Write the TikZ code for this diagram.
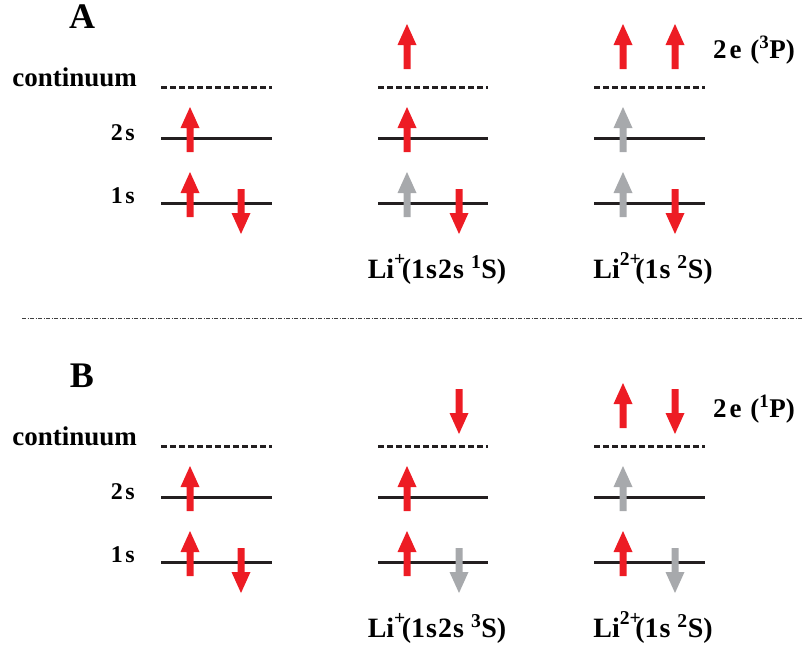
\documentclass[tikz,border=0pt]{standalone}
\usepackage{fontspec}
\setmainfont{Liberation Serif}
\definecolor{spinred}{HTML}{ED1C24}
\definecolor{spingray}{HTML}{A7A9AC}
\definecolor{levelblack}{HTML}{231F20}
\newcommand{\chargeup}[1]{\textsuperscript{\raisebox{3pt}{#1}}}
\tikzset{
  levelline/.style={line width=3pt, draw=levelblack},
  contline/.style={line width=3pt, draw=levelblack, dash pattern=on 6pt off 3pt},
  seprule/.style={line width=1pt, draw=black!75, dash pattern=on 4pt off 1.5pt on 1pt off 1.5pt},
  panellabel/.style={anchor=base, inner sep=0pt, font=\bfseries\fontsize{36}{36}\selectfont},
  contlabel/.style={anchor=base east, inner sep=0pt, font=\bfseries\fontsize{27}{27}\selectfont},
  lvllabel/.style={anchor=base east, inner sep=0pt, font=\bfseries\fontsize{24}{24}\selectfont},
  statelabel/.style={anchor=base, inner sep=0pt, font=\bfseries\fontsize{28}{28}\selectfont},
  twoelabel/.style={anchor=base west, inner sep=0pt, font=\bfseries\fontsize{27}{27}\selectfont},
  pics/spin/.style={code={
    \fill (-3.5,0) -- (-3.5,-24) -- (-9.5,-24) -- (0,-45) -- (9.5,-24) -- (3.5,-24) -- (3.5,0) -- cycle;
  }},
}
\begin{document}
\begin{tikzpicture}[x=1pt,y=-1pt]
\useasboundingbox (0,0) rectangle (803,645);

% separator between the panels
\coordinate (sepL) at (22,318);
\coordinate (sepR) at (803,318);
\draw[seprule] (sepL) -- (sepR);

% levels and level names, same in both panels
\foreach \pan/\off in {A/0,B/359}
{
  \begin{scope}[yshift=-\off pt]
    \node[panellabel] (lab\pan) at (82,28) {\pan};
    \node[contlabel] (cont\pan) at (137,86) {continuum};
    \node[lvllabel] (twos\pan) at (135,140) {2\kern2.5pt s};
    \node[lvllabel] (ones\pan) at (135,203) {1\kern2.5pt s};
    \foreach \xa/\xb in {161/272,378/488,594/705}
    {
      \draw[contline] (\xa,87) -- (\xb,87);
      \draw[levelline] (\xa,138) -- (\xb,138);
      \draw[levelline] (\xa,203) -- (\xb,203);
    }
  \end{scope}
}

% panel A spins
\foreach \x/\y/\c/\r in {190/152/spinred/0,190/217/spinred/0,241/189/spinred/180,
  407/69/spinred/0,407/152/spinred/0,407/217/spingray/0,459/189/spinred/180,
  623/69/spinred/0,675/69/spinred/0,623/152/spingray/0,623/217/spingray/0,675/189/spinred/180}
  \pic[color=\c, rotate=\r] at (\x,\y) {spin};

\node[statelabel] (ionAa) at (437,278) {Li\chargeup{+}\kern-4pt(1\kern1pt s\kern1pt 2\kern1pt s \textsuperscript{1}S)};
\node[statelabel] (ionAb) at (653,278) {Li\chargeup{2+}\kern-6pt(1\kern1pt s \textsuperscript{2}S)};
\node[twoelabel] (twoeA) at (713,58) {2\kern3pt e\kern2pt{} (\textsuperscript{3}P)};

% panel B spins
\begin{scope}[yshift=-359pt]
\foreach \x/\y/\c/\r in {190/152/spinred/0,190/217/spinred/0,241/189/spinred/180,
  459/30/spinred/180,407/152/spinred/0,407/217/spinred/0,459/189/spingray/180,
  623/69/spinred/0,675/30/spinred/180,623/152/spingray/0,623/217/spinred/0,675/189/spingray/180}
  \pic[color=\c, rotate=\r] at (\x,\y) {spin};

\node[statelabel] (ionBa) at (437,278) {Li\chargeup{+}\kern-4pt(1\kern1pt s\kern1pt 2\kern1pt s \textsuperscript{3}S)};
\node[statelabel] (ionBb) at (653,278) {Li\chargeup{2+}\kern-6pt(1\kern1pt s \textsuperscript{2}S)};
\node[twoelabel] (twoeB) at (713,58) {2\kern3pt e\kern2pt{} (\textsuperscript{1}P)};
\end{scope}
\end{tikzpicture}
\end{document}
